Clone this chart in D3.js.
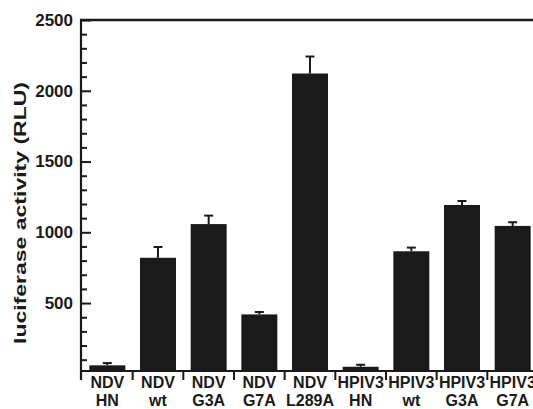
<!DOCTYPE html>
<html>
<head>
<meta charset="utf-8">
<script src="https://cdn.jsdelivr.net/npm/d3@7"></script>
<style>
  body { margin: 0; background: #fff; }
  svg { display: block; }
  text { font-family: "Liberation Sans", Arial, sans-serif; font-weight: bold; fill: #1a1a1a; }
</style>
</head>
<body>
<svg id="chart" width="533" height="409"></svg>
<script>
    // Chart data
    const groups = ["NDV", "NDV", "NDV", "NDV", "NDV", "HPIV3", "HPIV3", "HPIV3", "HPIV3"];
    const mutants = ["HN", "wt", "G3A", "G7A", "L289A", "HN", "wt", "G3A", "G7A"];
    const values = [60, 820, 1058, 420, 2122, 50, 866, 1193, 1045];
    const errors = [16, 76, 60, 17, 120, 14, 26, 28, 26];
    const majorTicks = [500, 1000, 1500, 2000, 2500];
    const minorTicks = d3.range(100, 2500, 100).filter(v => v % 500 !== 0);

    const width = 533;
    const height = 409;
    const plotLeft = 81, plotRight = 538, plotTop = 20, plotBottom = 371;
    const ink = "#1a1a1a";

    const categories = mutants.map((m, i) => i);

    const x = d3.scaleBand()
        .domain(categories)
        .range([plotLeft + 1, plotRight])
        .paddingInner(0.29)
        .paddingOuter(0.145);

    const y = d3.scaleLinear()
        .domain([20, 2500])
        .range([plotBottom, plotTop]);

    const svg = d3.select("#chart");

    // Bars
    svg.append("g")
        .attr("fill", ink)
      .selectAll("rect")
      .data(values)
      .join("rect")
        .attr("x", (d, i) => x(i))
        .attr("width", x.bandwidth())
        .attr("y", d => y(d))
        .attr("height", d => y(20) - y(d));

    // Error bars (upper only)
    const err = svg.append("g")
        .attr("stroke", ink)
        .attr("stroke-width", 2);
    values.forEach((v, i) => {
        const cx = x(i) + x.bandwidth() / 2;
        err.append("line")
            .attr("x1", cx).attr("x2", cx)
            .attr("y1", y(v)).attr("y2", y(v + errors[i]));
        err.append("line")
            .attr("x1", cx - 4.5).attr("x2", cx + 4.5)
            .attr("y1", y(v + errors[i])).attr("y2", y(v + errors[i]));
    });

    // Y axis: inward minor and major ticks
    const yMinor = svg.append("g")
        .attr("transform", `translate(${plotLeft},0)`)
        .call(d3.axisRight(y).tickValues(minorTicks).tickSize(6).tickFormat(""));
    const yMajor = svg.append("g")
        .attr("transform", `translate(${plotLeft},0)`)
        .call(d3.axisRight(y).tickValues(majorTicks).tickSize(10).tickFormat(""));
    [yMinor, yMajor].forEach(g => {
        g.select(".domain").remove();
        g.selectAll("line").attr("stroke", ink).attr("stroke-width", 2);
    });

    // Y tick labels
    const yLabels = svg.append("g")
        .attr("transform", `translate(${plotLeft},0)`)
        .call(d3.axisLeft(y).tickValues(majorTicks).tickSize(0).tickPadding(8).tickFormat(d3.format("d")));
    yLabels.select(".domain").remove();
    yLabels.selectAll("text")
        .attr("font-size", 17)
        .attr("font-family", "Liberation Sans, Arial, sans-serif")
        .attr("font-weight", "bold")
        .attr("fill", ink);

    // Axis frame: left spine, top line, bottom line
    svg.append("line")
        .attr("x1", plotLeft).attr("x2", plotLeft)
        .attr("y1", plotTop).attr("y2", plotBottom + 9)
        .attr("stroke", ink).attr("stroke-width", 2.2);
    svg.append("line")
        .attr("x1", plotLeft - 1).attr("x2", width)
        .attr("y1", plotTop).attr("y2", plotTop)
        .attr("stroke", ink).attr("stroke-width", 2.4);
    svg.append("line")
        .attr("x1", plotLeft).attr("x2", width)
        .attr("y1", plotBottom).attr("y2", plotBottom)
        .attr("stroke", ink).attr("stroke-width", 2);

    // X axis separator ticks between categories
    svg.append("g")
        .attr("stroke", ink)
        .attr("stroke-width", 2)
      .selectAll("line")
      .data(categories.slice(1))
      .join("line")
        .attr("x1", d => x(d) - x.step() * x.paddingInner() / 2)
        .attr("x2", d => x(d) - x.step() * x.paddingInner() / 2)
        .attr("y1", plotBottom)
        .attr("y2", plotBottom + 9);

    // X labels, two lines each
    const xAxis = svg.append("g")
        .attr("transform", `translate(0,${plotBottom})`)
        .call(d3.axisBottom(x).tickSize(0).tickFormat(""));
    xAxis.select(".domain").remove();
    xAxis.selectAll(".tick text").remove();
    xAxis.selectAll(".tick").append("text")
        .attr("text-anchor", "middle")
        .attr("font-size", 16)
        .attr("fill", ink)
        .each(function(d) {
            const t = d3.select(this);
            t.append("tspan").attr("x", 0).attr("y", 17).text(groups[d]);
            t.append("tspan").attr("x", 0).attr("y", 35).text(mutants[d]);
        });

    // Y axis title (stretched along its length, as in the figure)
    svg.append("text")
        .attr("transform", `translate(26,213) rotate(-90)`)
        .attr("text-anchor", "middle")
        .attr("font-size", 17)
        .attr("textLength", 262)
        .attr("lengthAdjust", "spacingAndGlyphs")
        .text("luciferase activity (RLU)");
</script>
</body>
</html>
